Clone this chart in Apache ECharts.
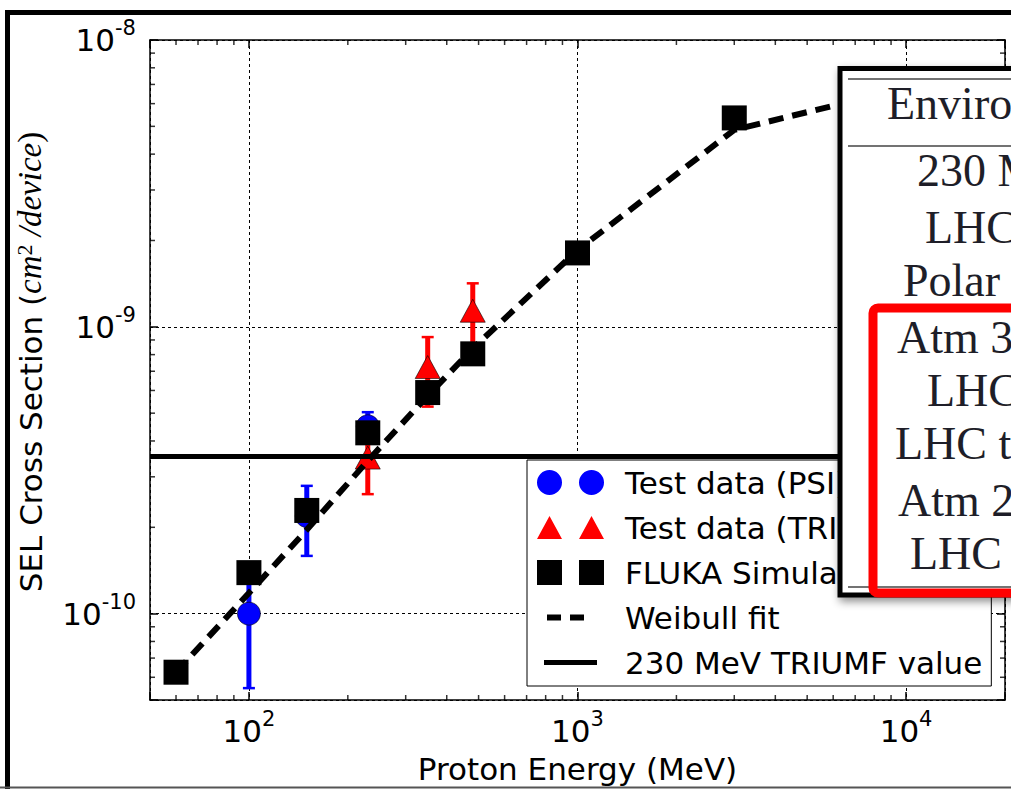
<!DOCTYPE html>
<html>
<head>
<meta charset="utf-8">
<script src="https://cdn.jsdelivr.net/npm/echarts@6/dist/echarts.min.js"></script>
<style>
html,body{margin:0;padding:0;background:#fff}
#chart{width:1011px;height:789px}
</style>
</head>
<body>
<div id="chart"></div>
<script>
// test data (PSI): energy MeV, cross section cm2/device, error
var psiE = [100, 150, 230];
var psiXS = [1.0e-10, 2.19e-10, 4.5e-10];
var psiErr = [4.5e-11, 6.0e-11, 5.4e-11];

// test data (TRIUMF)
var triE = [230, 350, 480];
var triXS = [3.5e-10, 7.24e-10, 1.138e-9];
var triErr = [8.9e-11, 1.97e-10, 2.8e-10];

// FLUKA simulation
var flukaE = [60, 100, 150, 230, 350, 480, 1000, 3000];
var flukaXS = [6.25e-11, 1.39e-10, 2.29e-10, 4.27e-10, 5.9e-10, 8.05e-10, 1.81e-9, 5.35e-9];

// Weibull fit
var fitE = [60, 100, 150, 230, 350, 480, 1000, 3000, 10000];
var fitXS = [6.25e-11, 1.18e-10, 1.96e-10, 3.41e-10, 5.75e-10, 8.4e-10, 1.85e-9, 4.86e-9, 6.8e-9];

// 230 MeV TRIUMF value
var triumfValue = 3.53e-10;

var xRange = [50, 20000];
var yRange = [5e-11, 1e-8];

// minor tick values (log axes)
var minorX = [60, 70, 80, 90, 200, 300, 400, 500, 600, 700, 800, 900, 2000, 3000, 4000, 5000, 6000, 7000, 8000, 9000];
var minorY = [6e-11, 7e-11, 8e-11, 9e-11, 2e-10, 3e-10, 4e-10, 5e-10, 6e-10, 7e-10, 8e-10, 9e-10,
	2e-9, 3e-9, 4e-9, 5e-9, 6e-9, 7e-9, 8e-9, 9e-9];

var legendNames = ['Test data (PSI)', 'Test data (TRIUMF)', 'FLUKA Simulation', 'Weibull fit', '230 MeV TRIUMF value'];

// text of the table pasted over the plot
var tableText = ['Environment', '230 MeV TRIUMF', 'LHC mixed field', 'Polar orbit', 'Atm 30 km',
	'LHC shielded', 'LHC tunnel', 'Atm 20 km', 'LHC cavern'];

var chart = echarts.init(document.getElementById('chart'), null, {renderer: 'svg'});

var SANS = 'DejaVu Sans', SERIF = 'Liberation Serif';

function powLabel(v){
	var e = Math.log10(v), r = Math.round(e);
	if (Math.abs(e - r) > 1e-6) return '';
	return '{b|10}{s|' + r + '}';
}
var powRich = {
	b: {fontFamily: SANS, fontSize: 31, color: '#000', lineHeight: 31, verticalAlign: 'bottom'},
	s: {fontFamily: SANS, fontSize: 21, color: '#000', lineHeight: 21, padding: [0, 0, 17, 0], verticalAlign: 'bottom'}
};

function errorBars(color){
	return function(params, api){
		var x = api.value(0), y = api.value(1), e = api.value(2);
		var hi = api.coord([x, y + e]), lo = api.coord([x, y - e]);
		var c = 6;
		return {type: 'group', children: [
			{type: 'line', shape: {x1: hi[0], y1: hi[1], x2: lo[0], y2: lo[1]}, style: {stroke: color, lineWidth: 5}},
			{type: 'line', shape: {x1: hi[0] - c, y1: hi[1], x2: hi[0] + c, y2: hi[1]}, style: {stroke: color, lineWidth: 2.5}},
			{type: 'line', shape: {x1: lo[0] - c, y1: lo[1], x2: lo[0] + c, y2: lo[1]}, style: {stroke: color, lineWidth: 2.5}}
		]};
	};
}

function zip(a, b, c){
	return a.map(function(v, i){ return c ? [v, b[i], c[i]] : [v, b[i]]; });
}

function minorTicks(data, size, offset){
	return {type: 'scatter', data: data, symbol: 'rect', symbolSize: size, symbolOffset: offset,
		itemStyle: {color: '#000'}, silent: true, clip: false, z: 5};
}

var axisLine = {show: true, onZero: false, lineStyle: {color: '#000', width: 1.5}};
var majorTick = {show: true, inside: true, length: 8, lineStyle: {color: '#000', width: 1.5}};
var gridLine = {show: true, lineStyle: {color: '#000', width: 1, type: [3, 3]}};

// legend icons: two markers side by side, M anchors keep the icon box 83x25
var ANCH = 'M0,0 M83,25 ';
var iconCircles = 'path://' + ANCH + 'M0,12.5 A12.5,12.5 0 1 1 25,12.5 A12.5,12.5 0 1 1 0,12.5 Z M42,12.5 A12.5,12.5 0 1 1 67,12.5 A12.5,12.5 0 1 1 42,12.5 Z';
var iconTris = 'path://' + ANCH + 'M0,24 L12.5,1 L25,24 Z M42,24 L54.5,1 L67,24 Z';
var iconSquares = 'path://' + ANCH + 'M0,0 L25,0 L25,25 L0,25 Z M42,0 L67,0 L67,25 L42,25 Z';
var iconDashes = 'path://' + ANCH + 'M10,9.5 L24,9.5 L24,15.5 L10,15.5 Z M33,9.5 L47,9.5 L47,15.5 L33,15.5 Z';
var iconLine = 'path://' + ANCH + 'M7,10 L60,10 L60,15 L7,15 Z';

// table overlay
var rowLeft = [887, 917, 925, 903, 897, 927, 895, 898, 910];
var rowBase = [118, 185, 242, 295, 352, 405, 458, 515, 568];
var TZ = 100;
var tableEls = [
	{type: 'rect', z: TZ, shape: {x: 840, y: 68.5, width: 220, height: 526.5},
		style: {fill: '#fff', stroke: '#000', lineWidth: 5, shadowBlur: 8, shadowOffsetX: 2, shadowOffsetY: 4, shadowColor: 'rgba(0,0,0,0.45)'}},
	{type: 'line', z: TZ + 1, shape: {x1: 848, y1: 79, x2: 1020, y2: 79}, style: {stroke: '#444', lineWidth: 1.5}},
	{type: 'line', z: TZ + 1, shape: {x1: 848, y1: 146, x2: 1020, y2: 146}, style: {stroke: '#444', lineWidth: 1.5}},
	{type: 'line', z: TZ + 1, shape: {x1: 848, y1: 587, x2: 1020, y2: 587}, style: {stroke: '#444', lineWidth: 1.5}}
];
tableText.forEach(function(t, i){
	tableEls.push({type: 'text', z: TZ + 2, style: {text: t, x: rowLeft[i], y: rowBase[i] - 15, fill: '#1e1e28',
		fontFamily: SERIF, fontSize: 46, align: 'left', verticalAlign: 'middle'}});
});
tableEls.push({type: 'rect', z: TZ + 3, shape: {x: 873, y: 308, width: 200, height: 285, r: 5},
	style: {fill: 'none', stroke: '#ff0000', lineWidth: 9}});

var option = {
	backgroundColor: '#fff',
	animation: false,
	grid: {left: 150, right: 6, top: 40, bottom: 87},
	xAxis: [{
		type: 'log', logBase: 10, min: xRange[0], max: xRange[1], position: 'bottom',
		axisLine: axisLine, axisTick: majorTick, splitLine: gridLine, minorTick: {show: false},
		axisLabel: {margin: 15, formatter: powLabel, rich: powRich, hideOverlap: false},
		name: 'Proton Energy (MeV)', nameLocation: 'middle', nameGap: 53,
		nameTextStyle: {fontFamily: SANS, fontSize: 31, color: '#000'}
	}, {
		type: 'log', logBase: 10, min: xRange[0], max: xRange[1], position: 'top',
		axisLine: axisLine, axisTick: majorTick, splitLine: {show: false}, axisLabel: {show: false}
	}],
	yAxis: [{
		type: 'log', logBase: 10, min: yRange[0], max: yRange[1], position: 'left',
		axisLine: axisLine, axisTick: majorTick, splitLine: gridLine,
		axisLabel: {margin: 14, formatter: powLabel, rich: powRich, hideOverlap: false},
		name: '{a|SEL Cross Section (}{m|cm}{s|2}{m| /device}{p|)}',
		nameLocation: 'middle', nameRotate: 90, nameGap: 104,
		nameTextStyle: {
			padding: [0, 0, 0, 16],
			rich: {
				a: {fontFamily: SANS, fontSize: 31, color: '#000', lineHeight: 33, verticalAlign: 'bottom'},
				m: {fontFamily: SERIF, fontStyle: 'italic', fontSize: 33, color: '#000', lineHeight: 33, verticalAlign: 'bottom'},
				s: {fontFamily: SERIF, fontSize: 22, color: '#000', lineHeight: 22, verticalAlign: 'top', padding: [0, 0, 14, 0]},
				p: {fontFamily: SERIF, fontSize: 33, color: '#000', lineHeight: 33, verticalAlign: 'bottom'}
			}
		}
	}, {
		type: 'log', logBase: 10, min: yRange[0], max: yRange[1], position: 'right',
		axisLine: axisLine, axisTick: majorTick, splitLine: {show: false}, axisLabel: {show: false}
	}],
	legend: {
		orient: 'vertical', left: 527, top: 460,
		itemWidth: 83, itemHeight: 25, itemGap: 14,
		padding: [7, 9, 8, 10],
		backgroundColor: '#fff', borderColor: '#000', borderWidth: 1,
		selectedMode: false,
		itemStyle: {borderWidth: 0},
		textStyle: {fontFamily: SANS, fontSize: 31, color: '#000'},
		data: [
			{name: legendNames[0], icon: iconCircles},
			{name: legendNames[1], icon: iconTris},
			{name: legendNames[2], icon: iconSquares},
			{name: legendNames[3], icon: iconDashes},
			{name: legendNames[4], icon: iconLine}
		],
		z: 10
	},
	graphic: [
		{type: 'rect', z: 50, shape: {x: 7.5, y: 12.5, width: 1100, height: 1000}, style: {fill: 'none', stroke: '#000', lineWidth: 5}},
		{type: 'line', z: 50, shape: {x1: 0, y1: 787.5, x2: 1011, y2: 787.5}, style: {stroke: '#555', lineWidth: 2}}
	].concat(tableEls),
	series: [
		{type: 'custom', name: 'psiErr', renderItem: errorBars('#0000ff'), data: zip(psiE, psiXS, psiErr),
			encode: {x: 0, y: 1}, silent: true, z: 2},
		{type: 'scatter', name: legendNames[0], data: zip(psiE, psiXS), symbol: 'circle', symbolSize: 23,
			itemStyle: {color: '#0000ff', borderColor: '#000', borderWidth: 0.6, opacity: 1}, z: 3},
		{type: 'custom', name: 'triErr', renderItem: errorBars('#ff0000'), data: zip(triE, triXS, triErr),
			encode: {x: 0, y: 1}, silent: true, z: 4},
		{type: 'scatter', name: legendNames[1], data: zip(triE, triXS), symbol: 'triangle', symbolSize: [25, 23],
			itemStyle: {color: '#ff0000', borderColor: '#000', borderWidth: 0.6, opacity: 1}, z: 5},
		{type: 'line', name: legendNames[4], data: [[xRange[0], triumfValue], [xRange[1], triumfValue]],
			symbol: 'none', lineStyle: {color: '#000', width: 5}, itemStyle: {color: '#000'}, z: 6},
		{type: 'scatter', name: legendNames[2], data: zip(flukaE, flukaXS), symbol: 'rect', symbolSize: 25,
			itemStyle: {color: '#000', opacity: 1}, z: 7},
		{type: 'line', name: legendNames[3], data: zip(fitE, fitXS), symbol: 'none',
			lineStyle: {color: '#000', width: 6, type: [15, 9], cap: 'butt'}, itemStyle: {color: '#000'}, z: 8},
		minorTicks(minorX.map(function(v){ return [v, yRange[0]]; }), [1.5, 5], [0, -2.5]),
		minorTicks(minorX.map(function(v){ return [v, yRange[1]]; }), [1.5, 5], [0, 2.5]),
		minorTicks(minorY.map(function(v){ return [xRange[0], v]; }), [5, 1.5], [2.5, 0]),
		minorTicks(minorY.map(function(v){ return [xRange[1], v]; }), [5, 1.5], [-2.5, 0])
	]
};

chart.setOption(option);
</script>
</body>
</html>
